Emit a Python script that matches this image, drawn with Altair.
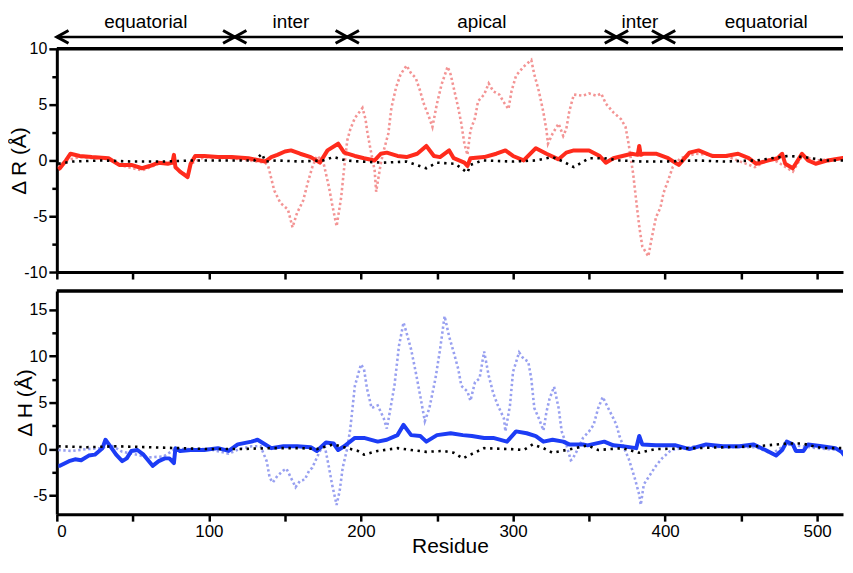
import altair as alt
import pandas as pd

# ---------------- data ----------------
XMAX = 517

# domain boundaries (residue) for the annotation arrows
domain_names = ["equatorial", "inter", "apical", "inter", "equatorial"]
domain_bounds = [0, 117, 191, 368, 399, 534]

# top panel: delta R
dR_solid = [(1,-0.8),(2,-0.7),(6,0),(9,0.6),(15,0.4),(23,0.3),(34,0.2),(41,-0.4),(49,-0.4),(56,-0.7),
            (61,-0.5),(67,-0.2),(73,-0.3),(76,-0.2),(77,0.5),(78,-0.6),(81,-1.0),(84,-1.3),(86,-1.5),(88,-0.3),
            (91,0.4),(97,0.4),(106,0.3),(115,0.3),(126,0.2),(137,-0.1),(141,0.3),(145,0.5),(150,0.8),(154,0.9),
            (160,0.6),(167,0.3),(173,-0.2),(178,0.9),(185,1.5),(189,0.7),(196,0.4),(202,0.2),(209,0),(213,0.6),
            (217,0.7),(224,0.4),(230,0.3),(237,0.6),(243,1.3),(248,0.4),(252,0.3),(258,0.9),(261,0.2),(268,-0.2),
            (270,-0.5),(272,0.2),(281,0.3),(289,0.6),(295,0.9),(300,0.4),(307,0),(315,1.1),(322,0.6),(330,0.1),
            (335,0.7),(340,0.9),(350,0.9),(357,0.4),(361,-0.2),(366,0.2),(372,0.4),(378,0.6),(382,0.5),(383,1.3),
            (384,0.5),(386,0.6),(394,0.6),(402,0.2),(409,-0.4),(416,0.7),(422,0.9),(431,0.4),(440,0.4),(448,0.6),
            (455,0.2),(460,-0.3),(468,0),(474,0.2),(477,0.6),(479,-0.3),(484,-0.7),(490,0.6),(494,0),(499,-0.3),
            (507,0),(520,0.3)]

dR_dotted = [(1,-0.6),(6,0),(15,0.3),(34,0.1),(41,-0.4),(56,-0.9),(67,-0.3),(76,-0.3),(77,0.4),(78,-0.7),
             (84,-1.2),(86,-1.4),(88,-0.3),(97,0.3),(115,0.2),(137,-0.2),(139,-0.5),(143,-2.7),(147,-3.8),(152,-4.4),
             (155,-6.0),(158,-4.7),(162,-3.6),(165,-2.0),(168,-0.6),(171,0.4),(175,0),(177,-1.2),(179,-2.4),(181,-3.9),
             (184,-5.9),(187,-3.3),(189,-0.6),(191,1.8),(193,2.8),(196,3.8),(201,4.7),(203,3.7),(204,2.7),(206,1.2),
             (209,-0.9),(210,-2.8),(213,-0.3),(215,0.9),(218,2.4),(220,4.7),(223,6.5),(226,7.7),(230,8.5),(233,7.8),
             (236,7.4),(239,6.2),(241,5.2),(245,3.8),(247,3.0),(250,5.1),(253,6.8),(257,8.4),(259,7.7),(261,6.5),
             (264,4.7),(266,3.3),(268,1.5),(270,0.5),(272,2.7),(275,3.8),(277,5.3),(281,5.9),(284,6.9),(287,6.2),
             (291,5.9),(294,5.2),(297,4.6),(299,6.2),(302,7.6),(307,8.4),(312,9.0),(314,7.7),(317,6.2),(320,4.3),
             (322,2.7),(323,1.5),(326,2.4),(330,3.3),(333,2.2),(335,2.8),(337,4.4),(340,5.9),(346,5.8),(350,6.0),
             (355,5.8),(358,6.0),(361,5.1),(366,4.3),(371,3.7),(374,3.0),(376,1.5),(379,-1.2),(381,-3.6),(383,-5.9),
             (385,-7.7),(389,-8.6),(391,-7.1),(394,-5.1),(397,-4.2),(399,-2.9),(402,-1.8),(405,-0.6),(410,0.2),(420,0.6),
             (440,0.4),(459,-0.6),(470,0.2),(484,-1.0),(490,0.4),(500,0),(520,0.2)]

dR_ref = [(1,-0.3),(10,-0.1),(30,0),(50,-0.1),(70,-0.1),(90,0),(110,0),(130,0),(135,0.6),(137,-0.1),
          (145,0),(160,-0.1),(175,0),(182,0.3),(190,0),(200,-0.1),(215,-0.2),(230,-0.1),(243,-0.7),(250,-0.2),
          (262,-0.3),(270,-1.1),(272,-0.4),(280,0),(300,-0.1),(315,0),(326,0.3),(333,-0.1),(340,-0.6),(350,0.2),
          (360,0.2),(370,0),(385,-0.1),(400,-0.1),(420,0),(440,-0.1),(460,0),(481,0.4),(492,0.3),(505,0),(520,0)]

# bottom panel: delta H
dH_solid = [(1,-1.8),(2,-1.8),(8,-1.3),(12,-1.1),(16,-1.2),(21,-0.7),(25,-0.6),(30,0.1),(32,1.0),(36,0.1),
            (39,-0.6),(43,-1.3),(46,-1.0),(49,-0.2),(53,-0.1),(57,-0.6),(60,-1.2),(63,-1.8),(67,-1.3),(71,-1.0),
            (74,-1.0),(77,-1.5),(78,0.1),(81,-0.2),(88,-0.1),(97,-0.1),(106,0.1),(113,-0.2),(119,0.5),(128,0.8),
            (132,1.0),(136,0.6),(141,0.1),(149,0.3),(158,0.3),(167,0.2),(171,-0.2),(177,0.7),(182,0.6),(185,-0.1),
            (189,0.3),(196,1.2),(202,1.2),(211,0.8),(217,1.0),(224,1.5),(228,2.6),(233,1.5),(239,1.4),(243,0.8),
            (250,1.5),(259,1.7),(267,1.5),(273,1.4),(281,1.2),(287,1.2),(296,0.8),(302,1.9),(309,1.7),(315,1.4),
            (320,0.8),(326,1.0),(333,0.8),(337,0.5),(346,0.5),(349,0.4),(360,0.8),(366,0.4),(372,0.3),(381,0.1),
            (383,1.4),(385,0.5),(394,0.4),(407,0.4),(416,0.0),(427,0.5),(438,0.3),(449,0.3),(458,0.5),(466,-0.1),
            (473,-0.7),(477,-0.1),(480,0.8),(484,0.5),(486,-0.2),(491,-0.2),(494,0.5),(503,0.3),(512,0.1),(516,-0.3),
            (520,-1.1)]

dH_dotted = [(1,-0.1),(10,-0.2),(20,0),(30,0.1),(35,0.5),(43,-0.3),(50,-0.5),(60,-0.9),(70,-0.8),(78,0),
             (90,0),(100,0),(113,-0.5),(120,0),(128,0.3),(134,0.3),(138,-1.3),(140,-3.1),(142,-3.6),(145,-2.9),
             (149,-2.3),(151,-2.1),(154,-3.1),(157,-4.1),(160,-3.4),(163,-3.3),(166,-2.3),(168,-2.0),(173,-0.2),(176,0.5),
             (179,-2.0),(181,-3.8),(184,-6.0),(186,-4.5),(188,-2.0),(191,0.1),(193,2.2),(196,6.8),(200,9.1),(202,8.6),
             (204,6.5),(207,4.4),(211,4.7),(213,4.0),(215,3.3),(217,2.2),(219,4.0),(222,6.8),(225,11.1),(228,13.6),
             (230,12.5),(233,10.7),(236,8.3),(239,5.7),(242,3.0),(245,4.4),(249,7.6),(252,10.7),(255,14.3),(258,12.1),
             (261,10.4),(264,8.6),(266,6.8),(270,6.2),(272,5.2),(275,7.2),(278,7.6),(281,10.5),(284,7.9),(287,6.0),
             (290,4.7),(294,3.3),(295,1.9),(298,4.7),(300,8.3),(304,10.4),(307,9.7),(310,9.4),(312,7.6),(314,4.4),
             (317,3.3),(320,2.0),(322,4.0),(324,5.4),(327,6.7),(330,4.4),(332,1.9),(335,0.5),(338,-1.2),(339,-1.1),
             (342,-0.2),(346,1.2),(350,1.9),(353,2.6),(356,4.4),(359,5.6),(362,4.6),(366,3.3),(368,2.6),(370,1.4),
             (373,0.1),(376,-1.0),(380,-3.1),(383,-4.9),(384,-6.0),(386,-3.8),(390,-2.8),(394,-1.8),(398,-1.0),(404,-0.1),
             (420,0.3),(440,0.2),(460,0.2),(470,-0.5),(480,0.5),(500,0.1),(520,-0.2)]

dH_ref = [(1,0.3),(20,0.2),(40,0.3),(60,0.2),(80,0.1),(100,0),(120,0),(140,0.1),(160,0.1),(171,0),
          (182,0.5),(189,0.2),(198,-0.2),(202,-0.6),(211,-0.2),(224,0.1),(233,-0.1),(243,-0.3),(254,-0.2),(261,-0.4),
          (267,-1.0),(272,-0.6),(281,0.1),(298,0),(307,-0.1),(313,0.5),(320,0.1),(326,-0.4),(335,-0.1),(349,0.4),
          (356,-0.1),(372,0.1),(383,-0.4),(394,0),(420,0.1),(440,0.2),(460,0.3),(481,0.6),(490,0.6),(503,0.1),(520,0.1)]

x_ticks = list(range(0, 501, 50))
yR_ticks = [v / 2 for v in range(-20, 21, 5)]
yH_ticks = [v / 2 for v in range(-10, 31, 5)]

# ---------------- styling ----------------
W, H = 789, 224
FONT = "Liberation Sans"
RED, PINK = "#ff2b1c", "#f39494"
BLUE, LBLUE = "#1c3cf5", "#98a0f0"

def df(pairs):
    return pd.DataFrame(pairs, columns=["r", "v"])

xscale = alt.Scale(domain=[0, XMAX], nice=False, zero=False)
major5 = {"condition": {"test": "datum.value % 5 === 0", "value": 8}, "value": 5}

x_axis_top = alt.Axis(values=x_ticks, labels=False, title=None, tickSize=7, minExtent=0)
x_axis_bot = alt.Axis(values=x_ticks, title="Residue", tickSize=7, labelPadding=2, titlePadding=-4,
                      minExtent=0, labelFontSize=17,
                      labelExpr="datum.value % 100 === 0 ? '' + datum.value : ''")

def y_axis(title, ticks):
    return alt.Axis(values=ticks, title=title, tickSize=major5, labelPadding=2, titlePadding=-6,
                    minExtent=0, labelFontSize=16,
                    labelExpr="datum.value % 5 === 0 ? '' + datum.value : ''")

def panel(solid, dotted, ref, c_solid, c_dot, ydom, yaxis, xaxis, arrows=False):
    X = alt.X("r:Q", scale=xscale, axis=xaxis)
    Y = alt.Y("v:Q", scale=alt.Scale(domain=ydom, nice=False, zero=False), axis=yaxis)
    border = alt.Chart(df([(0, 0)])).mark_rule(color="black", strokeWidth=3.5).encode(
        x=alt.value(0), x2=alt.value(W), y=alt.value(0))
    l_dot = alt.Chart(df(dotted)).mark_line(color=c_dot, strokeWidth=2.6, strokeDash=[2.4, 2.6],
                                            clip=True).encode(x=X, y=Y)
    l_sol = alt.Chart(df(solid)).mark_line(color=c_solid, strokeWidth=4, strokeJoin="round",
                                           clip=True).encode(x=X, y=Y)
    l_ref = alt.Chart(df(ref)).mark_line(color="black", strokeWidth=2.6, strokeDash=[2.4, 4.6],
                                         clip=True).encode(x=X, y=Y)
    layers = [border, l_dot, l_sol, l_ref]
    if arrows:
        seg = pd.DataFrame({
            "name": domain_names,
            "start": domain_bounds[:-1],
            "end": [min(b, XMAX) for b in domain_bounds[1:]],
            "mid": [(a + b) / 2 for a, b in zip(domain_bounds[:-1], domain_bounds[1:])],
        })
        lefts = pd.DataFrame({"r": domain_bounds[:-1]})
        rights = pd.DataFrame({"r": domain_bounds[1:-1]})
        AX = lambda f: alt.X(f, scale=xscale, axis=xaxis)
        head = dict(filled=False, size=548, stroke="black", strokeWidth=3, opacity=1)
        layers += [
            alt.Chart(seg).mark_rule(color="black", strokeWidth=2.5).encode(
                x=AX("start:Q"), x2="end:Q", y=alt.value(-12)),
            alt.Chart(lefts).mark_point(shape="M1,-0.55L0,0L1,0.55", **head).encode(
                x=AX("r:Q"), y=alt.value(-12)),
            alt.Chart(rights).mark_point(shape="M-1,-0.55L0,0L-1,0.55", **head).encode(
                x=AX("r:Q"), y=alt.value(-12)),
            alt.Chart(seg).mark_text(font=FONT, fontSize=19, baseline="alphabetic", color="black").encode(
                x=AX("mid:Q"), y=alt.value(-21), text="name:N"),
        ]
    return alt.layer(*layers).properties(width=W, height=H)

top = panel(dR_solid, dR_dotted, dR_ref, RED, PINK, [-10, 10], y_axis("Δ R (Å)", yR_ticks), x_axis_top, arrows=True)
bottom = panel(dH_solid, dH_dotted, dH_ref, BLUE, LBLUE, [-7, 17], y_axis("Δ H (Å)", yH_ticks), x_axis_bot)

chart = alt.vconcat(top, bottom, spacing=8).properties(
    padding={"left": 0, "top": 4, "right": 0, "bottom": 0}
).configure_view(stroke=None).configure_axis(
    domainWidth=3, domainColor="black", tickColor="black", tickWidth=2.5, grid=False,
    labelFont=FONT, labelColor="black",
    titleFont=FONT, titleFontSize=21, titleFontWeight="normal", titleColor="black",
)

chart.save("out.html", embed_options={"renderer": "svg", "actions": False})
